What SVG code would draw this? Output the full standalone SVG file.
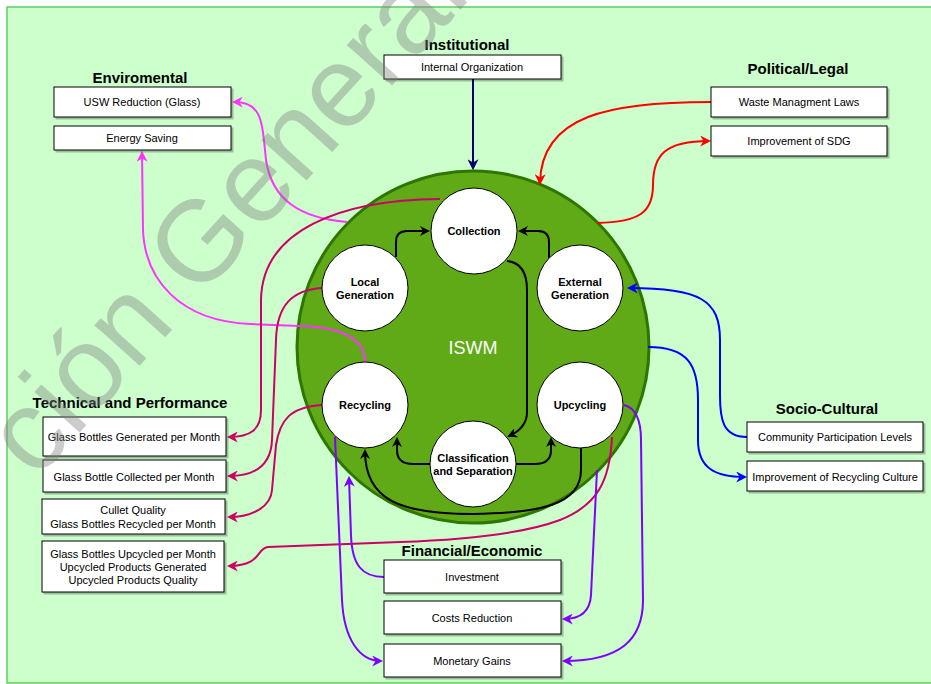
<svg xmlns="http://www.w3.org/2000/svg" width="931" height="684" viewBox="0 0 931 684">
<style>
.box{fill:#fff;stroke:#000;stroke-width:1;filter:url(#sh)}
.t{font-family:"Liberation Sans",Arial,sans-serif;font-size:11px;fill:#000;text-anchor:middle}
.h{font-family:"Liberation Sans",Arial,sans-serif;font-size:15px;font-weight:bold;fill:#000;text-anchor:middle}
.c{font-family:"Liberation Sans",Arial,sans-serif;font-size:11px;font-weight:bold;fill:#000;text-anchor:middle}
.node{fill:#fff;stroke:#000;stroke-width:1}
.e{fill:none;stroke-width:2}
</style>
<defs>
<filter id="sh" x="-10%" y="-10%" width="130%" height="150%"><feDropShadow dx="2" dy="2" stdDeviation="0.6" flood-color="#000" flood-opacity="0.25"/></filter>
<marker id="aK" viewBox="0 0 10 10" refX="8" refY="5" markerWidth="10" markerHeight="10" markerUnits="userSpaceOnUse" orient="auto"><path d="M0,0 L10,5 L0,10 L3,5 z" fill="#000"/></marker>
<marker id="aN" viewBox="0 0 10 10" refX="8" refY="5" markerWidth="11" markerHeight="11" markerUnits="userSpaceOnUse" orient="auto"><path d="M0,0 L10,5 L0,10 L3,5 z" fill="#000066"/></marker>
<marker id="aR" viewBox="0 0 10 10" refX="8" refY="5" markerWidth="11" markerHeight="11" markerUnits="userSpaceOnUse" orient="auto"><path d="M0,0 L10,5 L0,10 L3,5 z" fill="#FF0000"/></marker>
<marker id="aB" viewBox="0 0 10 10" refX="8" refY="5" markerWidth="11" markerHeight="11" markerUnits="userSpaceOnUse" orient="auto"><path d="M0,0 L10,5 L0,10 L3,5 z" fill="#0000FF"/></marker>
<marker id="aM" viewBox="0 0 10 10" refX="8" refY="5" markerWidth="11" markerHeight="11" markerUnits="userSpaceOnUse" orient="auto"><path d="M0,0 L10,5 L0,10 L3,5 z" fill="#FF33FF"/></marker>
<marker id="aC" viewBox="0 0 10 10" refX="8" refY="5" markerWidth="11" markerHeight="11" markerUnits="userSpaceOnUse" orient="auto"><path d="M0,0 L10,5 L0,10 L3,5 z" fill="#CC0066"/></marker>
<marker id="aP" viewBox="0 0 10 10" refX="8" refY="5" markerWidth="11" markerHeight="11" markerUnits="userSpaceOnUse" orient="auto"><path d="M0,0 L10,5 L0,10 L3,5 z" fill="#7F00FF"/></marker>
</defs>
<rect x="0" y="0" width="931" height="684" fill="#fff"/>
<rect x="7" y="7" width="930" height="676" fill="#CCFFCC" stroke="#5CCF5C" stroke-width="1.5"/>

<g id="iswm">
<circle cx="473" cy="347" r="176" fill="#60A917" stroke="#2D7600" stroke-width="3"/>
<text x="473" y="354" font-family="Liberation Sans, Arial, sans-serif" font-size="18" fill="#fff" text-anchor="middle">ISWM</text>
</g>

<g id="connectors">
<path class="e" stroke="#000066" d="M473,79 L473,168" marker-end="url(#aN)"/>
<path class="e" stroke="#FF0000" d="M711,102 C610,102 541,115 540,183" marker-end="url(#aR)"/>
<path class="e" stroke="#FF0000" d="M597,223 C640,222 653,212 653,185 C653,155 665,141 709,141" marker-end="url(#aR)"/>
<path class="e" stroke="#0000FF" d="M747,437 C722,437 720,418 720,395 L720,340 C720,300 700,288 629,288" marker-end="url(#aB)"/>
<path class="e" stroke="#0000FF" d="M648,347 C688,347 698,365 698,400 L698,440 C698,468 715,477 745,477" marker-end="url(#aB)"/>
<path class="e" stroke="#FF33FF" d="M347,222 C300,218 272,200 266,160 C262,120 262,102 234,102" marker-end="url(#aM)"/>
<path class="e" stroke="#FF33FF" d="M365,362 C365,338 340,327 300,326 L250,324 C180,321 145,280 143,230 L142,153" marker-end="url(#aM)"/>
<path class="e" stroke="#CC0066" d="M440,199 C340,200 262,230 261,300 L261,410 C261,430 250,437 229,437" marker-end="url(#aC)"/>
<path class="e" stroke="#CC0066" d="M322,288 C292,290 277,305 276,340 L272,440 C271,465 255,476 229,476" marker-end="url(#aC)"/>
<path class="e" stroke="#CC0066" d="M322,405 C290,407 280,420 276,445 L272,490 C271,505 255,517 229,517" marker-end="url(#aC)"/>
<path class="e" stroke="#CC0066" d="M612,437 C610,480 598,505 560,520 C520,535 460,540 400,542 L268,547 C256,548 262,566 229,566" marker-end="url(#aC)"/>
<path class="e" stroke="#7F00FF" d="M384,577 C362,577 352,565 351,535 L349,478" marker-end="url(#aP)"/>
<path class="e" stroke="#7F00FF" d="M335,437 L342,600 C344,640 360,661 381,661" marker-end="url(#aP)"/>
<path class="e" stroke="#7F00FF" d="M624,405 C636,408 641,420 641,440 L643,600 C643,640 620,661 564,661" marker-end="url(#aP)"/>
<path class="e" stroke="#7F00FF" d="M597,470 L591,595 C590,612 580,619 564,619" marker-end="url(#aP)"/>
<path class="e" stroke="#000" d="M396,257 L396,242 Q396,231 407,231 L428,231" marker-end="url(#aK)"/>
<path class="e" stroke="#000" d="M549,258 L549,242 Q549,231 538,231 L520,231" marker-end="url(#aK)"/>
<path class="e" stroke="#000" d="M507,261 Q527,263 527,290 L527,412 Q527,428 509,436" marker-end="url(#aK)"/>
<path class="e" stroke="#000" d="M430,464 L413,464 Q397,464 397,450 L397,439" marker-end="url(#aK)"/>
<path class="e" stroke="#000" d="M516,464 L535,464 Q551,464 551,450 L551,439" marker-end="url(#aK)"/>
<path class="e" stroke="#000" d="M581,448 L581,470 C581,505 540,513 473,514 C400,514 365,500 365,451" marker-end="url(#aK)"/>
</g>

<g id="collection"><circle class="node" cx="474" cy="231" r="43"/><text class="c" x="474" y="235">Collection</text></g>
<g id="local-generation"><circle class="node" cx="365" cy="288" r="43"/><text class="c" x="365" y="286">Local</text><text class="c" x="365" y="299">Generation</text></g>
<g id="external-generation"><circle class="node" cx="580" cy="288" r="43"/><text class="c" x="580" y="286">External</text><text class="c" x="580" y="299">Generation</text></g>
<g id="recycling"><circle class="node" cx="365" cy="405" r="43"/><text class="c" x="365" y="409">Recycling</text></g>
<g id="upcycling"><circle class="node" cx="580" cy="405" r="43"/><text class="c" x="580" y="409">Upcycling</text></g>
<g id="classification"><circle class="node" cx="473" cy="464" r="43"/><text class="c" x="473" y="462">Classification</text><text class="c" x="473" y="475">and Separation</text></g>

<g id="environmental">
<text class="h" x="140" y="83">Enviromental</text>
<rect class="box" x="54" y="87" width="177" height="30"/><text class="t" x="142" y="106">USW Reduction (Glass)</text>
<rect class="box" x="54" y="126" width="177" height="24"/><text class="t" x="142" y="142">Energy Saving</text>
</g>
<g id="institutional">
<text class="h" x="467" y="50">Institutional</text>
<rect class="box" x="384" y="55" width="177" height="24"/><text class="t" x="472" y="71">Internal Organization</text>
</g>
<g id="political">
<text class="h" x="798" y="74">Political/Legal</text>
<rect class="box" x="711" y="87" width="176" height="30"/><text class="t" x="799" y="106">Waste Managment Laws</text>
<rect class="box" x="711" y="126" width="176" height="30"/><text class="t" x="799" y="145">Improvement of SDG</text>
</g>
<g id="socio-cultural">
<text class="h" x="827" y="414">Socio-Cultural</text>
<rect class="box" x="747" y="422" width="176" height="30"/><text class="t" x="835" y="441">Community Participation Levels</text>
<rect class="box" x="747" y="461" width="176" height="30"/><text class="t" x="835" y="481">Improvement of Recycling Culture</text>
</g>
<g id="technical">
<text class="h" x="130" y="408">Technical and Performance</text>
<rect class="box" x="43" y="417" width="183" height="39"/><text class="t" x="134" y="441">Glass Bottles Generated per Month</text>
<rect class="box" x="43" y="460" width="183" height="32"/><text class="t" x="134" y="481">Glass Bottle Collected per Month</text>
<rect class="box" x="42" y="499" width="183" height="35"/><text class="t" x="133" y="514">Cullet Quality</text><text class="t" x="133" y="528">Glass Bottles Recycled per Month</text>
<rect class="box" x="42" y="541" width="182" height="51"/><text class="t" x="133" y="558">Glass Bottles Upcycled per Month</text><text class="t" x="133" y="571">Upcycled Products Generated</text><text class="t" x="133" y="584">Upcycled Products Quality</text>
</g>
<g id="financial">
<text class="h" x="472" y="556">Financial/Economic</text>
<rect class="box" x="384" y="560" width="177" height="33"/><text class="t" x="472" y="581">Investment</text>
<rect class="box" x="384" y="601" width="177" height="33"/><text class="t" x="472" y="622">Costs Reduction</text>
<rect class="box" x="384" y="644" width="177" height="33"/><text class="t" x="472" y="665">Monetary Gains</text>
</g>

<text x="36" y="481" transform="rotate(-48 36 481)" font-family="Liberation Sans, Arial, sans-serif" font-size="115" fill="#808080" fill-opacity="0.4">ción General</text>
</svg>
